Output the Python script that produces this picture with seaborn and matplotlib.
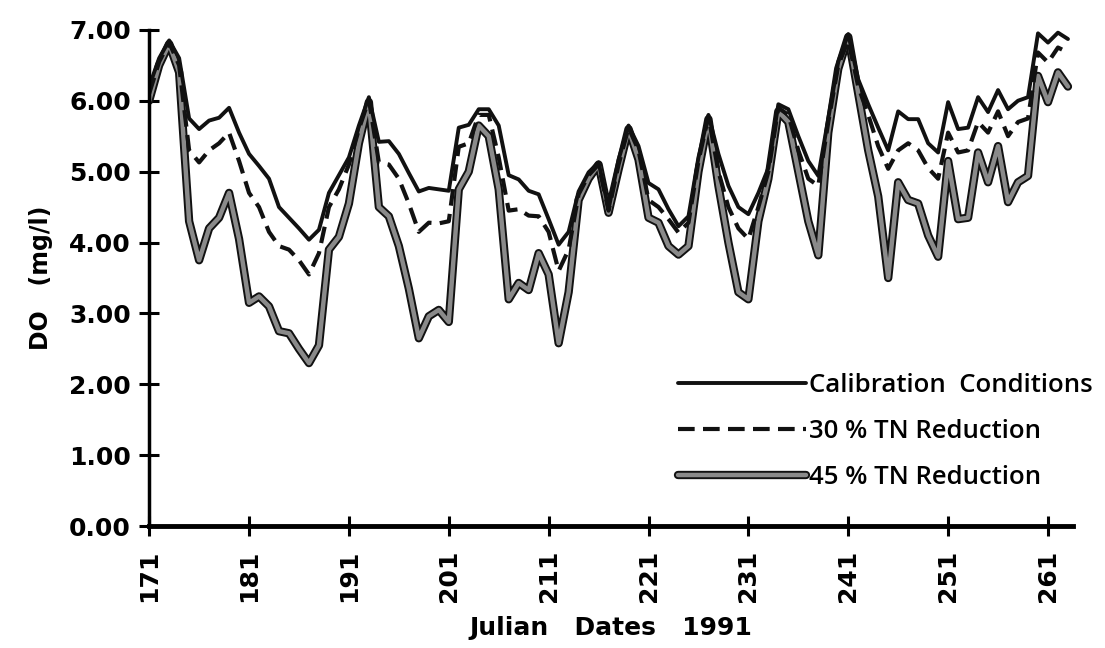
import pandas as pd
import matplotlib
matplotlib.use("Agg")
import matplotlib.pyplot as plt
import matplotlib.patheffects as pe
import seaborn as sns

# Julian day 171..263 (DO in mg/l)
days = list(range(171, 264))

calibration = [
    6.20, 6.60, 6.85, 6.60, 5.75, 5.60, 5.72, 5.76, 5.90, 5.55,
    5.25, 5.08, 4.90, 4.50, 4.35, 4.20, 4.04, 4.18, 4.70, 4.95,
    5.20, 5.65, 6.05, 5.42, 5.43, 5.25, 4.98, 4.72, 4.77, 4.75,
    4.73, 5.62, 5.66, 5.88, 5.88, 5.65, 4.95, 4.89, 4.73, 4.68,
    4.33, 3.97, 4.15, 4.72, 4.99, 5.13, 4.47, 5.17, 5.65, 5.36,
    4.84, 4.75, 4.47, 4.23, 4.37, 5.20, 5.80, 5.25, 4.80, 4.50,
    4.40, 4.70, 5.05, 5.95, 5.88, 5.50, 5.15, 4.94, 5.75, 6.55,
    6.94, 6.30, 5.95, 5.62, 5.30, 5.85, 5.74, 5.74, 5.40, 5.27,
    5.98, 5.60, 5.62, 6.05, 5.84, 6.15, 5.88, 6.00, 6.05, 6.95,
    6.82, 6.96, 6.87,
]

tn30 = [
    6.10, 6.55, 6.82, 6.50, 5.30, 5.13, 5.30, 5.40, 5.55, 5.15,
    4.70, 4.50, 4.15, 3.95, 3.90, 3.75, 3.55, 3.85, 4.50, 4.75,
    5.10, 5.60, 6.02, 5.13, 5.10, 4.90, 4.55, 4.15, 4.28, 4.27,
    4.30, 5.35, 5.40, 5.80, 5.80, 5.20, 4.45, 4.47, 4.38, 4.37,
    4.15, 3.60, 3.90, 4.68, 4.95, 5.10, 4.45, 5.10, 5.62, 5.30,
    4.60, 4.50, 4.33, 4.14, 4.28, 5.15, 5.78, 5.00, 4.50, 4.20,
    4.05, 4.50, 5.00, 5.90, 5.80, 5.30, 4.90, 4.80, 5.70, 6.50,
    6.85, 6.20, 5.80, 5.36, 5.04, 5.30, 5.40, 5.30, 5.05, 4.90,
    5.55, 5.27, 5.30, 5.70, 5.55, 5.85, 5.50, 5.70, 5.75, 6.68,
    6.54, 6.75, 6.68,
]

tn45 = [
    6.00, 6.50, 6.80, 6.40, 4.30, 3.75, 4.20, 4.35, 4.70, 4.05,
    3.15, 3.24, 3.10, 2.75, 2.72, 2.50, 2.30, 2.55, 3.90, 4.08,
    4.55, 5.40, 5.98, 4.50, 4.37, 3.95, 3.35, 2.65, 2.96, 3.05,
    2.88, 4.75, 5.00, 5.65, 5.50, 4.75, 3.20, 3.43, 3.33, 3.85,
    3.55, 2.58, 3.30, 4.60, 4.90, 5.10, 4.42, 5.03, 5.60, 5.17,
    4.35, 4.28, 3.95, 3.83, 3.95, 5.00, 5.74, 4.80, 4.00, 3.30,
    3.20, 4.30, 4.90, 5.85, 5.70, 5.00, 4.30, 3.82, 5.55, 6.45,
    6.90, 6.10, 5.30, 4.65, 3.50, 4.85, 4.60, 4.55, 4.10, 3.80,
    5.15, 4.33, 4.35, 5.27, 4.85, 5.36, 4.57, 4.85, 4.94, 6.35,
    5.98, 6.40, 6.20,
]

series_names = ["Calibration  Conditions", "30 % TN Reduction", "45 % TN Reduction"]
x_ticks = list(range(171, 262, 10))
y_ticks = [0, 1, 2, 3, 4, 5, 6, 7]

df = pd.DataFrame({"day": days, series_names[0]: calibration,
                   series_names[1]: tn30, series_names[2]: tn45})

sns.set_style("ticks")
plt.rcParams["font.family"] = ["DejaVu Sans"]
plt.rcParams["text.color"] = "black"
plt.rcParams["xtick.color"] = "black"
plt.rcParams["ytick.color"] = "black"
plt.rcParams["axes.labelcolor"] = "black"
plt.rcParams["axes.edgecolor"] = "black"

fig = plt.figure(figsize=(11.05, 6.48), dpi=100)
ax = fig.add_axes([0.135, 0.188, 0.836, 0.766])

sns.lineplot(data=df, x="day", y=series_names[2], ax=ax, color="#8a8a8a",
             linewidth=3.2, label=series_names[2])
thick = ax.lines[-1]
thick.set_path_effects([pe.Stroke(linewidth=6.0, foreground="#111111"), pe.Normal()])

sns.lineplot(data=df, x="day", y=series_names[1], ax=ax, color="#111111",
             linewidth=3.0, label=series_names[1])
dashed = ax.lines[-1]
dashed.set_dashes((4, 2))

sns.lineplot(data=df, x="day", y=series_names[0], ax=ax, color="#111111",
             linewidth=2.8, label=series_names[0])

ax.set_xlim(171, 263.5)
ax.set_ylim(0, 7)
ax.set_xticks(x_ticks)
ax.set_xticklabels([str(t) for t in x_ticks], rotation=90, fontsize=18,
                   fontweight="bold")
ax.set_yticks(y_ticks)
ax.set_yticklabels([f"{t:.2f}" for t in y_ticks], fontsize=18, fontweight="bold")
ax.tick_params(axis="both", direction="inout", length=14, width=2.2, pad=6)
ax.tick_params(axis="x", pad=10)

sns.despine(ax=ax)
ax.spines["left"].set_linewidth(2.5)
ax.spines["bottom"].set_linewidth(3.5)

ax.set_xlabel("Julian   Dates   1991", fontsize=18, fontweight="bold", labelpad=10)
ax.set_ylabel("DO   (mg/l)", fontsize=17, fontweight="bold", labelpad=12)

handles, labels = ax.get_legend_handles_labels()
order = [labels.index(n) for n in series_names]
leg = ax.legend([handles[i] for i in order], [labels[i] for i in order],
                loc="upper left", bbox_to_anchor=(0.572, 0.308), frameon=False,
                prop={"family": "Open Sans", "weight": "semibold", "size": 18.5},
                handlelength=5.0, handletextpad=0.1,
                labelspacing=0.82, borderpad=0, borderaxespad=0)

fig.savefig("out.png", dpi=100)
